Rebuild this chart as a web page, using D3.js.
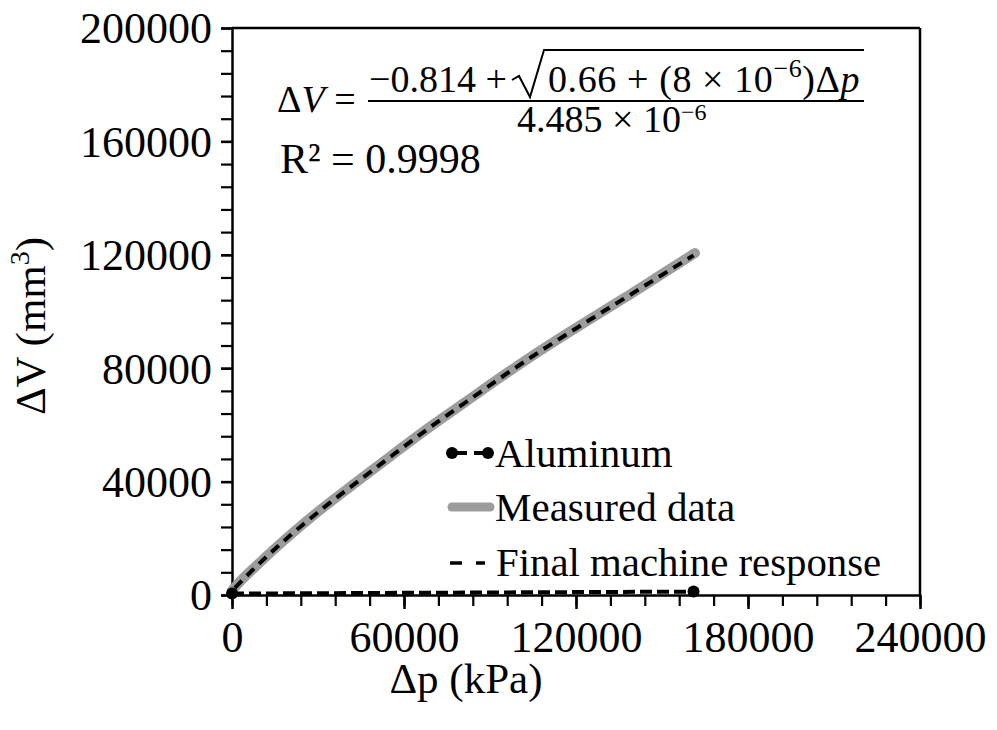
<!DOCTYPE html>
<html><head><meta charset="utf-8">
<script src="https://cdn.jsdelivr.net/npm/d3@7"></script>
<style>
body{margin:0;background:#fff;}
text{font-family:"Liberation Serif","Times New Roman",serif;fill:#000;}
</style></head>
<body>
<svg id="c" width="997" height="730"></svg>
<script>
// ---- data ----
const xTicks = [0, 60000, 120000, 180000, 240000];
const yTicks = [0, 40000, 80000, 120000, 160000, 200000];
const xMinorStep = 12000;
const yMinorStep = 8000;

// Measured data (Δp kPa, ΔV mm3)
const measuredP = [0, 1500, 9000, 21000, 32000, 44000, 56000, 70000, 82000, 94000, 105000, 117000, 126000, 138000, 150000, 161500];
const measuredV = [1500, 3300, 10800, 21800, 31000, 40300, 49500, 60000, 68500, 77000, 84500, 92300, 98000, 105500, 113200, 120600];

// Final machine response (fit)
const fitP = [1000, 9000, 21000, 32000, 44000, 56000, 70000, 82000, 94000, 105000, 117000, 126000, 138000, 150000, 161000];
const fitV = [2500, 10600, 21600, 30800, 40100, 49300, 59800, 68300, 76800, 84300, 92100, 97800, 105300, 112900, 119800];

// Aluminum
const aluP = [0, 161000];
const aluV = [500, 1200];

const legendLabels = ["Aluminum", "Measured data", "Final machine response"];

// ---- drawing ----
const svg = d3.select("#c");
const x = d3.scaleLinear().domain([0, 240000]).range([232, 920]);
const y = d3.scaleLinear().domain([0, 200000]).range([595, 28]);

// frame
svg.append("line").attr("x1", x(0)).attr("x2", x(240000)).attr("y1", y(200000)).attr("y2", y(200000)).attr("stroke", "#000").attr("stroke-width", 2.5);
svg.append("line").attr("x1", x(240000)).attr("x2", x(240000)).attr("y1", y(200000)).attr("y2", y(0)).attr("stroke", "#000").attr("stroke-width", 2.5);

// minor ticks
const xMinor = d3.range(0, 240001, xMinorStep);
const yMinor = d3.range(0, 200001, yMinorStep);
svg.append("g").attr("transform", `translate(0,${y(0)})`)
  .call(d3.axisBottom(x).tickValues(xMinor).tickSize(11).tickSizeOuter(0).tickFormat(""))
  .call(g => g.selectAll("line").attr("stroke-width", 2.2))
  .call(g => g.select(".domain").attr("stroke-width", 2.5));
svg.append("g").attr("transform", `translate(${x(0)},0)`)
  .call(d3.axisLeft(y).tickValues(yMinor).tickSize(11).tickSizeOuter(0).tickFormat(""))
  .call(g => g.selectAll("line").attr("stroke-width", 2.2))
  .call(g => g.select(".domain").attr("stroke-width", 2.5));

// major ticks + labels
svg.append("g").attr("transform", `translate(0,${y(0)})`)
  .call(d3.axisBottom(x).tickValues(xTicks).tickSize(14).tickSizeOuter(0).tickPadding(6).tickFormat(d3.format("d")))
  .call(g => g.select(".domain").remove())
  .call(g => g.selectAll("line").attr("stroke-width", 2.5))
  .call(g => g.selectAll("text").attr("font-size", 44).attr("font-family", "Liberation Serif").attr("dy", "0.83em"));
svg.append("g").attr("transform", `translate(${x(0)},0)`)
  .call(d3.axisLeft(y).tickValues(yTicks).tickSize(11).tickSizeOuter(0).tickPadding(9).tickFormat(d3.format("d")))
  .call(g => g.select(".domain").remove())
  .call(g => g.selectAll("line").attr("stroke-width", 2.5))
  .call(g => g.selectAll("text").attr("font-size", 44).attr("font-family", "Liberation Serif").attr("dy", "0.34em"));

// axis titles
svg.append("text").attr("x", 466).attr("y", 693).attr("text-anchor", "middle").attr("font-size", 43).text("Δp (kPa)");
const yt = svg.append("text").attr("transform", "translate(45,326) rotate(-90)").attr("text-anchor", "middle").attr("font-size", 43);
yt.append("tspan").text("ΔV (mm");
yt.append("tspan").attr("font-size", 28).attr("dy", -16).text("3");
yt.append("tspan").attr("dy", 16).text(")");

// series
const lineGen = d3.line().x(d => x(d[0])).y(d => y(d[1])).curve(d3.curveMonotoneX);
const measured = measuredP.map((p, i) => [p, measuredV[i]]);
const fit = fitP.map((p, i) => [p, fitV[i]]);
const alu = aluP.map((p, i) => [p, aluV[i]]);

svg.append("path").datum(measured).attr("d", lineGen).attr("fill", "none")
  .attr("stroke", "#9c9c9c").attr("stroke-width", 10).attr("stroke-linecap", "round").attr("stroke-linejoin", "round");
svg.append("path").datum(fit).attr("d", lineGen).attr("fill", "none")
  .attr("stroke", "#000").attr("stroke-width", 4).attr("stroke-dasharray", "10,7");
svg.append("path").datum(alu).attr("d", d3.line().x(d => x(d[0])).y(d => y(d[1]))).attr("fill", "none")
  .attr("stroke", "#000").attr("stroke-width", 4).attr("stroke-dasharray", "12,5");
svg.selectAll("circle.alu").data(alu).join("circle").attr("class", "alu")
  .attr("cx", d => x(d[0])).attr("cy", d => y(d[1])).attr("r", 6).attr("fill", "#000");

// legend
const lg = svg.append("g");
lg.append("line").attr("x1", 453).attr("x2", 488).attr("y1", 453).attr("y2", 453).attr("stroke", "#000").attr("stroke-width", 4).attr("stroke-dasharray", "14,7");
lg.append("circle").attr("cx", 452).attr("cy", 453).attr("r", 6);
lg.append("circle").attr("cx", 488).attr("cy", 453).attr("r", 6);
lg.append("text").attr("x", 495).attr("y", 467).attr("font-size", 41).text(legendLabels[0]);
lg.append("line").attr("x1", 452).attr("x2", 490).attr("y1", 507).attr("y2", 507).attr("stroke", "#9c9c9c").attr("stroke-width", 9).attr("stroke-linecap", "round");
lg.append("text").attr("x", 495).attr("y", 521).attr("font-size", 41).text(legendLabels[1]);
lg.append("line").attr("x1", 450).attr("x2", 490).attr("y1", 563).attr("y2", 563).attr("stroke", "#000").attr("stroke-width", 3.5).attr("stroke-dasharray", "12,14,9,10");
lg.append("text").attr("x", 496).attr("y", 576).attr("font-size", 40.8).text(legendLabels[2]);

// equation
const eq = svg.append("g").attr("font-family", "Liberation Serif");
const lhs = eq.append("text").attr("x", 277).attr("y", 112).attr("font-size", 38);
lhs.append("tspan").text("Δ");
lhs.append("tspan").attr("font-style", "italic").text("V");
lhs.append("tspan").text(" =");
eq.append("text").attr("x", 369).attr("y", 92).attr("font-size", 38).text("−0.814 +");
eq.append("path").attr("d", "M512,80 L519,76 L530,97 L544,50 L864,50").attr("fill", "none").attr("stroke", "#000").attr("stroke-width", 2);
const rad = eq.append("text").attr("x", 548).attr("y", 92).attr("font-size", 38).attr("letter-spacing", 0.6);
rad.append("tspan").text("0.66 + (8 × 10");
rad.append("tspan").attr("font-size", 26).attr("dy", -15).text("−6");
rad.append("tspan").attr("dy", 15).text(")Δ");
rad.append("tspan").attr("font-style", "italic").text("p");
eq.append("line").attr("x1", 368).attr("x2", 864).attr("y1", 101).attr("y2", 101).attr("stroke", "#000").attr("stroke-width", 2);
const den = eq.append("text").attr("x", 517).attr("y", 132).attr("font-size", 38);
den.append("tspan").text("4.485 × 10");
den.append("tspan").attr("font-size", 24).attr("dy", -12).text("−6");
eq.append("text").attr("x", 280).attr("y", 173).attr("font-size", 42).text("R² = 0.9998");
</script>
</body></html>
